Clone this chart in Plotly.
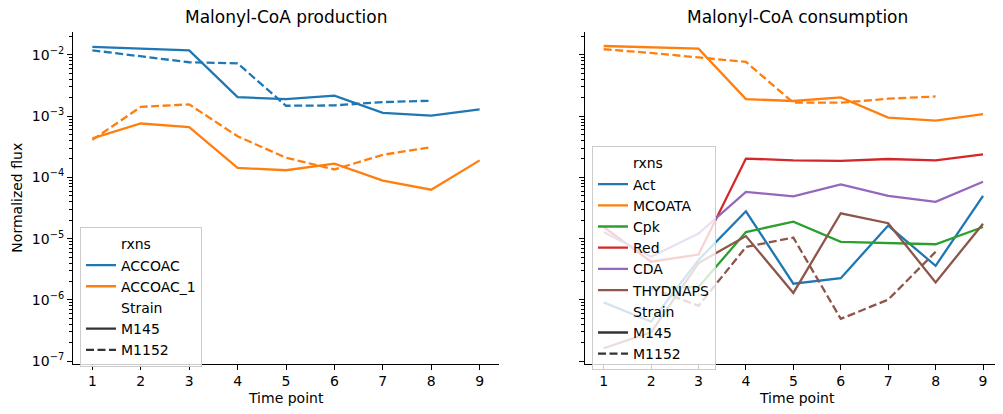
import plotly.graph_objects as go

time_points = [1, 2, 3, 4, 5, 6, 7, 8, 9]

# Malonyl-CoA production (left panel)
accoac_m145 = [0.0136, 0.0128, 0.0119, 0.00205, 0.0019, 0.00216, 0.00113, 0.00102, 0.00129]
accoac_m1152 = [0.0119, 0.0096, 0.0076, 0.0073, 0.00148, 0.0015, 0.0017, 0.00179, None]
accoac1_m145 = [0.000435, 0.00076, 0.000665, 0.000143, 0.000131, 0.000168, 8.85e-5, 6.3e-5, 0.00019]
accoac1_m1152 = [0.00041, 0.00142, 0.00156, 0.00047, 0.00021, 0.000135, 0.000234, 0.000313, None]

# Malonyl-CoA consumption (right panel)
act_m145 = [9.1e-7, 4.4e-7, 4.5e-6, 2.8e-5, 1.84e-6, 2.26e-6, 1.64e-5, 3.6e-6, 5.0e-5]
mcoata_m145 = [0.014, 0.0133, 0.0127, 0.0019, 0.00177, 0.00203, 0.00095, 0.00085, 0.00108]
mcoata_m1152 = [0.0124, 0.0108, 0.0091, 0.0077, 0.00166, 0.00166, 0.00193, 0.0021, None]
cpk_m145 = [None, 1.62e-6, 1.62e-6, 1.28e-5, 1.9e-5, 8.85e-6, 8.5e-6, 8.1e-6, 1.55e-5]
red_m145 = [1.55e-5, 4.2e-6, 5.5e-6, 0.000203, 0.00019, 0.000186, 0.0002, 0.00019, 0.000238]
cda_m145 = [1.28e-5, 5.07e-6, 1.21e-5, 5.8e-5, 4.9e-5, 7.7e-5, 5.0e-5, 4.0e-5, 8.5e-5]
thydnaps_m145 = [1.62e-7, 2.95e-7, 4.0e-6, 1.1e-5, 1.3e-6, 2.6e-5, 1.79e-5, 1.93e-6, 1.75e-5]
thydnaps_m1152 = [None, 1.56e-6, 8.0e-7, 7.3e-6, 1.04e-5, 4.9e-7, 1.01e-6, 6.1e-6, None]

ytick_vals = [1e-7, 1e-6, 1e-5, 1e-4, 1e-3, 1e-2]
ytick_text = ["10<sup>−7</sup>", "10<sup>−6</sup>", "10<sup>−5</sup>",
              "10<sup>−4</sup>", "10<sup>−3</sup>", "10<sup>−2</sup>"]

BLUE, ORANGE, GREEN, RED, PURPLE, BROWN = "#1f77b4", "#ff7f0e", "#2ca02c", "#d62728", "#9467bd", "#8c564b"
GRAY = "#333333"
LW = 2.3
DASH = "8px,3.5px"
FONT = "DejaVu Sans"

fig = go.Figure()


def add_line(y, color, dash, xa, ya):
    fig.add_trace(go.Scatter(x=time_points, y=y, mode="lines", xaxis=xa, yaxis=ya,
                             line=dict(color=color, width=LW, dash=dash),
                             showlegend=False, hoverinfo="skip", connectgaps=False))


# left panel
add_line(accoac_m145, BLUE, "solid", "x", "y")
add_line(accoac_m1152, BLUE, DASH, "x", "y")
add_line(accoac1_m145, ORANGE, "solid", "x", "y")
add_line(accoac1_m1152, ORANGE, DASH, "x", "y")

# right panel
add_line(act_m145, BLUE, "solid", "x2", "y2")
add_line(mcoata_m145, ORANGE, "solid", "x2", "y2")
add_line(mcoata_m1152, ORANGE, DASH, "x2", "y2")
add_line(cpk_m145, GREEN, "solid", "x2", "y2")
add_line(red_m145, RED, "solid", "x2", "y2")
add_line(cda_m145, PURPLE, "solid", "x2", "y2")
add_line(thydnaps_m145, BROWN, "solid", "x2", "y2")
add_line(thydnaps_m1152, BROWN, DASH, "x2", "y2")


def legend_entry(name, color, dash, legend, xa, ya):
    fig.add_trace(go.Scatter(x=[None], y=[None], mode="lines", name=name, xaxis=xa, yaxis=ya,
                             line=dict(color=color, width=LW, dash=dash),
                             showlegend=True, legend=legend))


CLEAR = "rgba(0,0,0,0)"
for nm, c, d in [("rxns", CLEAR, "solid"), ("ACCOAC", BLUE, "solid"), ("ACCOAC_1", ORANGE, "solid"),
                 ("Strain", CLEAR, "solid"), ("M145", GRAY, "solid"), ("M1152", GRAY, DASH)]:
    legend_entry(nm, c, d, "legend", "x", "y")

for nm, c, d in [("rxns", CLEAR, "solid"), ("Act", BLUE, "solid"), ("MCOATA", ORANGE, "solid"),
                 ("Cpk", GREEN, "solid"), ("Red", RED, "solid"), ("CDA", PURPLE, "solid"),
                 ("THYDNAPS", BROWN, "solid"), ("Strain", CLEAR, "solid"),
                 ("M145", GRAY, "solid"), ("M1152", GRAY, DASH)]:
    legend_entry(nm, c, d, "legend2", "x2", "y2")

# page body has an 8px margin; figure is sized/positioned to compensate
OFF = 8
W, H = 1003 - OFF, 414 - OFF


def px(x):
    return (x - OFF) / W


def py(y):
    return (H - (y - OFF)) / H


x1d = [px(73), px(499)]
x2d = [px(584.7), px(1002)]
yd = [py(368), py(32)]

xaxis_common = dict(type="linear", range=[0.6, 9.4], tickvals=time_points,
                    showline=True, linecolor="black", linewidth=1.1, mirror=False,
                    ticks="outside", ticklen=5, tickwidth=1.1, tickcolor="black",
                    showgrid=False, zeroline=False, tickfont=dict(size=14, color="black", family=FONT))
yaxis_common = dict(type="log", range=[-7.04, -1.62], tickvals=ytick_vals,
                    showline=True, linecolor="black", linewidth=1.1, mirror=False,
                    ticks="outside", ticklen=5, tickwidth=1.1, tickcolor="black",
                    minor=dict(ticks="outside", ticklen=3, tickwidth=0.8, tickcolor="black",
                               dtick="D1", showgrid=False),
                    showgrid=False, zeroline=False, tickfont=dict(size=14, color="black", family=FONT))

legend_common = dict(bgcolor="rgba(255,255,255,0.8)", bordercolor="#cccccc", borderwidth=1,
                     font=dict(size=14, color="black", family=FONT), xanchor="left", yanchor="top",
                     tracegroupgap=0, itemclick=False)

fig.update_layout(
    width=W, height=H,
    margin=dict(l=0, r=0, t=0, b=0),
    paper_bgcolor="white", plot_bgcolor="white",
    font=dict(family=FONT, size=14, color="black"),
    xaxis=dict(domain=x1d, anchor="y", **xaxis_common),
    yaxis=dict(domain=yd, anchor="x", ticktext=ytick_text, **yaxis_common),
    xaxis2=dict(domain=x2d, anchor="y2", **xaxis_common),
    yaxis2=dict(domain=yd, anchor="x2", matches="y", showticklabels=False, **yaxis_common),
    legend=dict(x=px(80), y=py(230), **legend_common),
    legend2=dict(x=px(592), y=py(148), **legend_common),
    showlegend=True,
    annotations=[
        dict(text="Malonyl-CoA production", x=px(286), y=py(17), xref="paper", yref="paper",
             showarrow=False, font=dict(size=17, family=FONT, color="black"), xanchor="center", yanchor="middle"),
        dict(text="Malonyl-CoA consumption", x=px(797), y=py(17), xref="paper", yref="paper",
             showarrow=False, font=dict(size=17, family=FONT, color="black"), xanchor="center", yanchor="middle"),
        dict(text="Time point", x=px(286), y=py(403), xref="paper", yref="paper",
             showarrow=False, font=dict(size=14, family=FONT, color="black"), xanchor="center", yanchor="middle"),
        dict(text="Time point", x=px(797), y=py(403), xref="paper", yref="paper",
             showarrow=False, font=dict(size=14, family=FONT, color="black"), xanchor="center", yanchor="middle"),
        dict(text="Normalized flux", x=px(17), y=py(200), xref="paper", yref="paper", textangle=-90,
             showarrow=False, font=dict(size=14, family=FONT, color="black"), xanchor="center", yanchor="middle"),
    ],
)

fig.write_html("out.html")
